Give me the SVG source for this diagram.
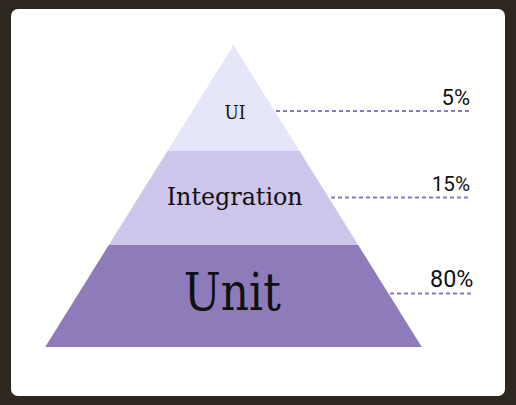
<svg xmlns="http://www.w3.org/2000/svg" width="516" height="405" viewBox="0 0 516 405">
<style>
.lbl{font-family:"DejaVu Serif","Liberation Serif",serif;fill:#111;text-anchor:middle}
.pct{font-family:Roboto,"Liberation Sans",sans-serif;fill:#111;text-anchor:end}
.dash{stroke:#8a78bc;stroke-width:2;stroke-dasharray:4 3;fill:none}
</style>
<rect x="0" y="0" width="516" height="405" fill="#2e2720"/>
<rect x="11" y="9" width="494" height="387" rx="7" fill="#ffffff"/>
<g id="connectors">
<line class="dash" x1="276" y1="111" x2="470" y2="111"/>
<line class="dash" x1="331" y1="197.5" x2="470" y2="197.5"/>
<line class="dash" x1="390" y1="293.5" x2="472" y2="293.5"/>
</g>
<g id="ui">
<polygon points="233.5,45 299.4,150.7 167.6,150.7" fill="#e6e6fa"/>
<text class="lbl" x="235" y="119.3" font-size="19" textLength="21" lengthAdjust="spacingAndGlyphs">UI</text>
</g>
<g id="integration">
<polygon points="167.6,150.7 299.4,150.7 358.2,245 108.8,245" fill="#cdc5ea"/>
<text class="lbl" x="234.7" y="205" font-size="25" textLength="136" lengthAdjust="spacingAndGlyphs">Integration</text>
</g>
<g id="unit">
<polygon points="108.8,245 358.2,245 421.8,347 45.2,347" fill="#8e7bb9"/>
<text class="lbl" x="232.3" y="310" font-size="52" textLength="97" lengthAdjust="spacingAndGlyphs">Unit</text>
</g>
<g id="pct5"><text class="pct" x="470" y="105" font-size="22">5%</text></g>
<g id="pct15"><text class="pct" x="470" y="190.7" font-size="20.6">15%</text></g>
<g id="pct80"><text class="pct" x="473.3" y="287.3" font-size="23.3">80%</text></g>
</svg>
